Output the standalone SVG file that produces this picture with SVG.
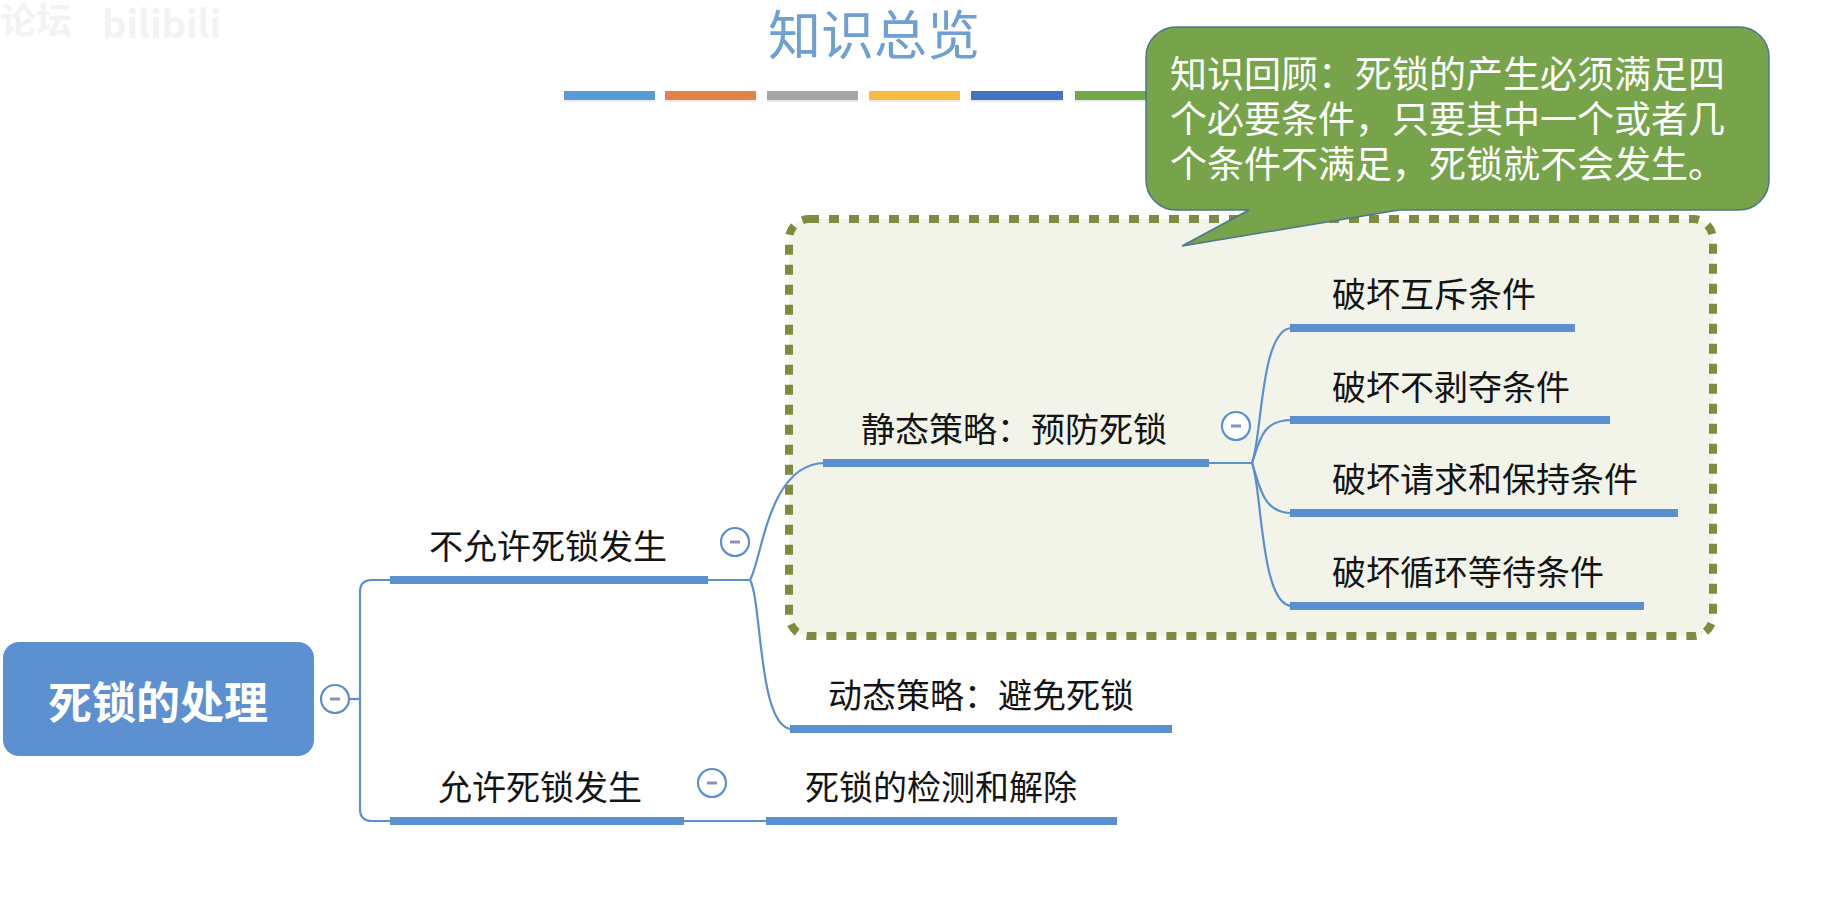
<svg xmlns="http://www.w3.org/2000/svg" width="1836" height="922" viewBox="0 0 1836 922">
<style>
.t{font-family:"Noto Sans CJK SC","Noto Sans",sans-serif;font-size:34px;fill:#141414}
.bar{fill:#5b8fcf}
.ln{fill:none;stroke:#5b8fcf;stroke-width:2.2}
.cc{fill:#ffffff;stroke:#5b8fcf;stroke-width:2.2}
.cd{stroke:#8c90b8;stroke-width:3}
.wm{font-family:"Noto Sans CJK SC","Noto Sans",sans-serif;fill:#f3f3f3;font-weight:bold}
</style>
<rect width="1836" height="922" fill="#ffffff"/>
<g id="watermark">
<text class="wm" x="0" y="34" font-size="36">论坛</text>
<text class="wm" x="102" y="38" font-size="38">bilibili</text>
</g>
<g id="title">
<text x="874" y="55" text-anchor="middle" font-family="Noto Sans CJK SC, Noto Sans, sans-serif" font-size="53" fill="#6fa0d4">知识总览</text>
<g id="colorbars">
<rect x="564" y="94" width="91" height="8" fill="#000" opacity="0.08"/>
<rect x="665" y="94" width="91" height="8" fill="#000" opacity="0.08"/>
<rect x="767" y="94" width="91" height="8" fill="#000" opacity="0.08"/>
<rect x="869" y="94" width="91" height="8" fill="#000" opacity="0.08"/>
<rect x="971" y="94" width="92" height="8" fill="#000" opacity="0.08"/>
<rect x="1075" y="94" width="92" height="8" fill="#000" opacity="0.08"/>
<rect x="564" y="91" width="91" height="9" fill="#5b9bd5"/>
<rect x="665" y="91" width="91" height="9" fill="#e3814a"/>
<rect x="767" y="91" width="91" height="9" fill="#a5a5a5"/>
<rect x="869" y="91" width="91" height="9" fill="#f6bd44"/>
<rect x="971" y="91" width="92" height="9" fill="#4472c4"/>
<rect x="1075" y="91" width="92" height="9" fill="#72a84a"/>
</g>
</g>
<g id="prevention-frame">
<rect x="789" y="219" width="924" height="417" rx="20" fill="#f2f4ea" stroke="#7f8b3f" stroke-width="8" stroke-dasharray="10 10"/>
</g>
<g id="callout">
<path d="M1176,27 H1739 A30,30 0 0 1 1769,57 V180 A30,30 0 0 1 1739,210 H1399 L1182,246 L1249,210 H1176 A30,30 0 0 1 1146,180 V57 A30,30 0 0 1 1176,27 Z" fill="#77a34a" stroke="#4d7590" stroke-width="1.5"/>
<g font-family="Noto Sans CJK SC, Noto Sans, sans-serif" font-size="37" fill="#ffffff">
<text x="1170" y="88">知识回顾：死锁的产生必须满足四</text>
<text x="1170" y="133">个必要条件，只要其中一个或者几</text>
<text x="1170" y="178">个条件不满足，死锁就不会发生。</text>
</g>
</g>
<g id="connectors">
<path class="ln" d="M349,699 H360"/>
<path class="ln" d="M392,580 H372 Q360,580 360,592 V809 Q360,821 372,821 H392"/>
<path class="ln" d="M706,580 H750"/>
<path class="ln" d="M750,580 C762,560 768,463 825,463"/>
<path class="ln" d="M750,580 C762,600 758,729 792,729"/>
<path class="ln" d="M682,821 H768"/>
<path class="ln" d="M1207,463 H1252"/>
<path class="ln" d="M1252,463 C1262,440 1260,328 1292,328"/>
<path class="ln" d="M1252,463 C1260,440 1262,420 1292,420"/>
<path class="ln" d="M1252,463 C1260,486 1262,513 1292,513"/>
<path class="ln" d="M1252,463 C1262,486 1260,606 1292,606"/>
</g>
<g id="root">
<rect x="3" y="642" width="311" height="114" rx="16" fill="#5d90d0"/>
<text x="158" y="719" text-anchor="middle" font-family="Noto Sans CJK SC, Noto Sans, sans-serif" font-size="44" font-weight="bold" fill="#ffffff">死锁的处理</text>
<circle class="cc" cx="335" cy="699" r="14"/><line class="cd" x1="330" y1="699" x2="340" y2="699"/>
</g>
<g id="node-not-allowed">
<rect class="bar" x="390" y="576" width="318" height="8"/>
<text class="t" x="429" y="559">不允许死锁发生</text>
<circle class="cc" cx="735" cy="542" r="14"/><line class="cd" x1="730" y1="542" x2="740" y2="542"/>
</g>
<g id="node-allowed">
<rect class="bar" x="390" y="817" width="294" height="8"/>
<text class="t" x="438" y="800">允许死锁发生</text>
<circle class="cc" cx="712" cy="783" r="14"/><line class="cd" x1="707" y1="783" x2="717" y2="783"/>
</g>
<g id="node-static">
<rect class="bar" x="823" y="459" width="386" height="8"/>
<text class="t" x="861" y="442">静态策略：预防死锁</text>
<circle class="cc" cx="1236" cy="426" r="14"/><line class="cd" x1="1231" y1="426" x2="1241" y2="426"/>
</g>
<g id="node-dynamic">
<rect class="bar" x="790" y="725" width="382" height="8"/>
<text class="t" x="828" y="708">动态策略：避免死锁</text>
</g>
<g id="node-detect">
<rect class="bar" x="766" y="817" width="351" height="8"/>
<text class="t" x="805" y="800">死锁的检测和解除</text>
</g>
<g id="node-mutex">
<rect class="bar" x="1290" y="324" width="285" height="8"/>
<text class="t" x="1332" y="307">破坏互斥条件</text>
</g>
<g id="node-nopreempt">
<rect class="bar" x="1290" y="416" width="320" height="8"/>
<text class="t" x="1332" y="400">破坏不剥夺条件</text>
</g>
<g id="node-holdwait">
<rect class="bar" x="1290" y="509" width="388" height="8"/>
<text class="t" x="1332" y="492">破坏请求和保持条件</text>
</g>
<g id="node-circular">
<rect class="bar" x="1290" y="602" width="354" height="8"/>
<text class="t" x="1332" y="585">破坏循环等待条件</text>
</g>
</svg>
